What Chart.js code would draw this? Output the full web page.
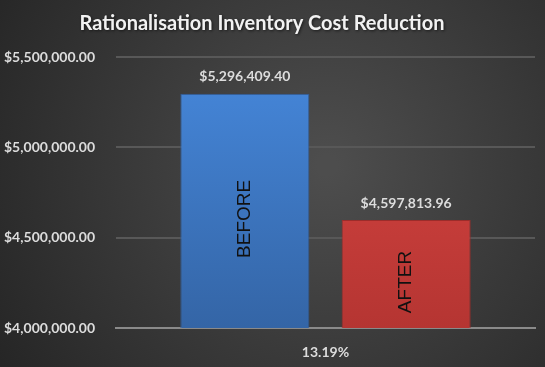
<!DOCTYPE html>
<html><head><meta charset="utf-8">
<script src="https://cdn.jsdelivr.net/npm/chart.js@4/dist/chart.umd.min.js"></script>
<style>html,body{margin:0;padding:0;background:#333;}#wrap{width:545px;height:367px;}</style>
</head><body><div id="wrap"><canvas id="c" width="545" height="367"></canvas></div>
<script>
const chartTitle = 'Rationalisation Inventory Cost Reduction';
const categories = ["13.19%"];
const seriesNames = ["BEFORE", "AFTER"];
const beforeValues = [5296409.40];
const afterValues = [4597813.96];
const tickValues = [4000000, 4500000, 5000000, 5500000];

const fmt = v => '$' + v.toLocaleString('en-US', {minimumFractionDigits: 2, maximumFractionDigits: 2});

function grad(ctx, c1, c2) {
  const ch = ctx.chart; const a = ch.chartArea;
  if (!a) return c1;
  const g = ch.ctx.createLinearGradient(0, a.top, 0, a.bottom);
  g.addColorStop(0, c1); g.addColorStop(1, c2);
  return g;
}

const bgPlugin = {
  id: 'bg',
  beforeDraw(chart) {
    const ctx = chart.ctx, w = chart.width, h = chart.height;
    const g = ctx.createRadialGradient(w*0.6, h*0.45, 10, w*0.6, h*0.45, w*0.7);
    g.addColorStop(0, '#4d4d4d'); g.addColorStop(1, '#262626');
    ctx.save(); ctx.fillStyle = g; ctx.fillRect(0, 0, w, h);
    ctx.font = 'bold 20px Lato';
    ctx.fillStyle = '#f2f2f2';
    ctx.textAlign = 'center'; ctx.textBaseline = 'middle';
    ctx.shadowColor = 'rgba(0,0,0,0.6)'; ctx.shadowBlur = 3; ctx.shadowOffsetX = 1; ctx.shadowOffsetY = 1;
    ctx.fillText(chartTitle, 262, 24);
    ctx.restore();
  }
};

const labelPlugin = {
  id: 'labels',
  afterDatasetsDraw(chart) {
    const ctx = chart.ctx;
    const yScale = chart.scales.y;
    const basePx = yScale.getPixelForValue(yScale.min);
    chart.data.datasets.forEach((ds, i) => {
      const meta = chart.getDatasetMeta(i);
      meta.data.forEach((bar, j) => {
        const v = ds.data[j];
        const top = yScale.getPixelForValue(v);
        ctx.save();
        ctx.font = 'bold 14px Lato';
        ctx.fillStyle = '#dcdcdc';
        ctx.textAlign = 'center'; ctx.textBaseline = 'middle';
        ctx.fillText(fmt(v), bar.x, top - 17);
        ctx.restore();
        ctx.save();
        const mid = (top + basePx) / 2 + 8;
        ctx.translate(bar.x, mid);
        ctx.rotate(-Math.PI / 2);
        ctx.font = '19px "Liberation Sans", Arial, sans-serif';
        ctx.fillStyle = '#111111';
        ctx.textAlign = 'center'; ctx.textBaseline = 'middle';
        ctx.fillText(String(ds.label), 0, 0);
        ctx.restore();
      });
    });
  }
};

new Chart(document.getElementById('c'), {
  type: 'bar',
  data: {
    labels: categories,
    datasets: [
      { label: seriesNames[0], data: beforeValues,
        backgroundColor: c => grad(c, '#4688dc', '#3465a6'),
        borderColor: '#2f5a96', borderWidth: 1 },
      { label: seriesNames[1], data: afterValues,
        backgroundColor: c => grad(c, '#dc4744', '#b53532'),
        borderColor: '#9c2c2a', borderWidth: 1 }
    ]
  },
  options: {
    responsive: false, animation: false,
    categoryPercentage: 0.77, barPercentage: 0.8,
    layout: { padding: { left: 4, right: 10, top: 57, bottom: 0 } },
    plugins: {
      legend: { display: false }, tooltip: { enabled: false },
      title: { display: false }
    },
    scales: {
      x: {
        grid: { display: false, drawTicks: false },
        border: { color: '#8a8a8a', width: 2 },
        afterFit: ax => { ax.height = 39; },
        ticks: { color: '#dcdcdc', font: { family: 'Lato', size: 14, weight: 'bold' }, padding: 16 }
      },
      y: {
        min: tickValues[0], max: tickValues[tickValues.length - 1],
        afterBuildTicks: ax => { ax.ticks = tickValues.map(v => ({ value: v })); },
        afterFit: ax => { ax.width = 112; },
        grid: { color: '#585858', lineWidth: 2, drawTicks: false },
        border: { display: false },
        ticks: { color: '#dcdcdc', font: { family: 'Lato', size: 14, weight: 'bold' },
          callback: v => fmt(v), crossAlign: 'far', padding: 14 }
      }
    }
  },
  plugins: [bgPlugin, labelPlugin]
});
</script></body></html>
